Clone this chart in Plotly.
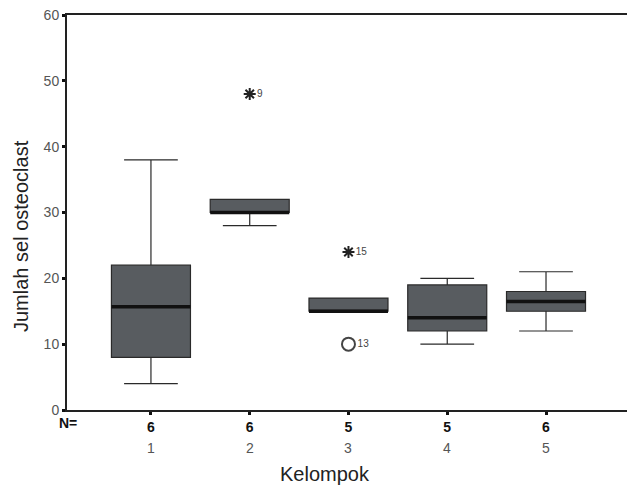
import plotly.graph_objects as go

groups = [1, 2, 3, 4, 5]
group_labels = ["1", "2", "3", "4", "5"]
n_counts = [6, 6, 5, 5, 6]
lower = [4, 28, 15, 10, 12]
q1 = [8, 30, 15, 12, 15]
median = [15.7, 30, 15, 14, 16.5]
q3 = [22, 32, 17, 19, 18]
upper = [38, 32, 17, 20, 21]

extreme_x = [2, 3]
extreme_y = [48, 24]
extreme_lbl = ["9", "15"]
outlier_x = [3]
outlier_y = [10]
outlier_lbl = ["13"]

W, H = 627, 486
L, R, T, B = 67, 0, 15, 76
PW, PH = W - L - R, H - T - B


def py(pix):
    """pixel y (from top) -> paper y"""
    return (H - B - pix) / PH


def px(pix):
    return (pix - L) / PW


BOX_W = 0.8
fig = go.Figure()
fig.add_trace(go.Box(
    x=groups, q1=q1, median=median, q3=q3, lowerfence=lower, upperfence=upper,
    fillcolor="#585c60", line=dict(color="#2a2a2a", width=1.2),
    width=BOX_W, whiskerwidth=0.68, boxpoints=False, showlegend=False, hoverinfo="skip"))

# thick median lines
mx, my = [], []
for g, m in zip(groups, median):
    mx += [g - BOX_W / 2, g + BOX_W / 2, None]
    my += [m, m, None]
fig.add_trace(go.Scatter(x=mx, y=my, mode="lines", line=dict(color="#111111", width=3.5),
                         showlegend=False, hoverinfo="skip"))

fig.add_trace(go.Scatter(
    x=extreme_x, y=extreme_y, mode="markers+text", text=extreme_lbl, textposition="middle right",
    textfont=dict(size=10, color="#444", family="Liberation Sans"),
    marker=dict(symbol="asterisk-open", size=10, color="#222", line=dict(color="#222", width=2)),
    showlegend=False, hoverinfo="skip"))
fig.add_trace(go.Scatter(
    x=outlier_x, y=outlier_y, mode="markers+text", text=outlier_lbl, textposition="middle right",
    textfont=dict(size=10, color="#444", family="Liberation Sans"),
    marker=dict(symbol="circle-open", size=13, color="#444", line=dict(color="#444", width=2)),
    showlegend=False, hoverinfo="skip"))

annotations = [
    dict(text="<b>N=</b>", x=px(68), y=py(423), xref="paper", yref="paper", showarrow=False,
         xanchor="center", yanchor="middle", font=dict(size=14, color="#111")),
    dict(text="Kelompok", xref="paper", yref="paper", x=px(325), y=py(474),
         xanchor="center", yanchor="middle", showarrow=False, font=dict(size=20, color="#222")),
    dict(text="Jumlah sel osteoclast", xref="paper", yref="paper", x=px(21), y=py(236),
         xanchor="center", yanchor="middle", textangle=-90, showarrow=False,
         font=dict(size=20, color="#222")),
]
for g, lbl in zip(groups, group_labels):
    annotations.append(dict(text=lbl, x=g, xref="x", y=py(448), yref="paper", showarrow=False,
                            xanchor="center", yanchor="middle", font=dict(size=14, color="#555")))

fig.update_layout(
    width=W, height=H,
    margin=dict(l=L, r=R, t=T, b=B),
    plot_bgcolor="white", paper_bgcolor="white",
    font=dict(family="Liberation Sans", color="#555"),
    xaxis=dict(range=[0.15, 5.82], tickvals=groups, ticktext=[f"<b>{n}</b>" for n in n_counts],
               automargin=False,
               showgrid=False, zeroline=False, showline=True, linecolor="#222", linewidth=2,
               mirror=True, ticks="outside", ticklen=3, tickwidth=3, tickcolor="#111",
               tickfont=dict(size=14, color="#111")),
    yaxis=dict(range=[0, 60], tickvals=[0, 10, 20, 30, 40, 50, 60], automargin=False,
               showgrid=False, zeroline=False, showline=True, linecolor="#222", linewidth=2,
               ticks="outside", ticklen=3, tickwidth=3, tickcolor="#111",
               tickfont=dict(size=14, color="#555")),
    annotations=annotations,
)

fig.write_html("out.html", post_script="document.body.style.margin='0';",
               config={"displayModeBar": False})
